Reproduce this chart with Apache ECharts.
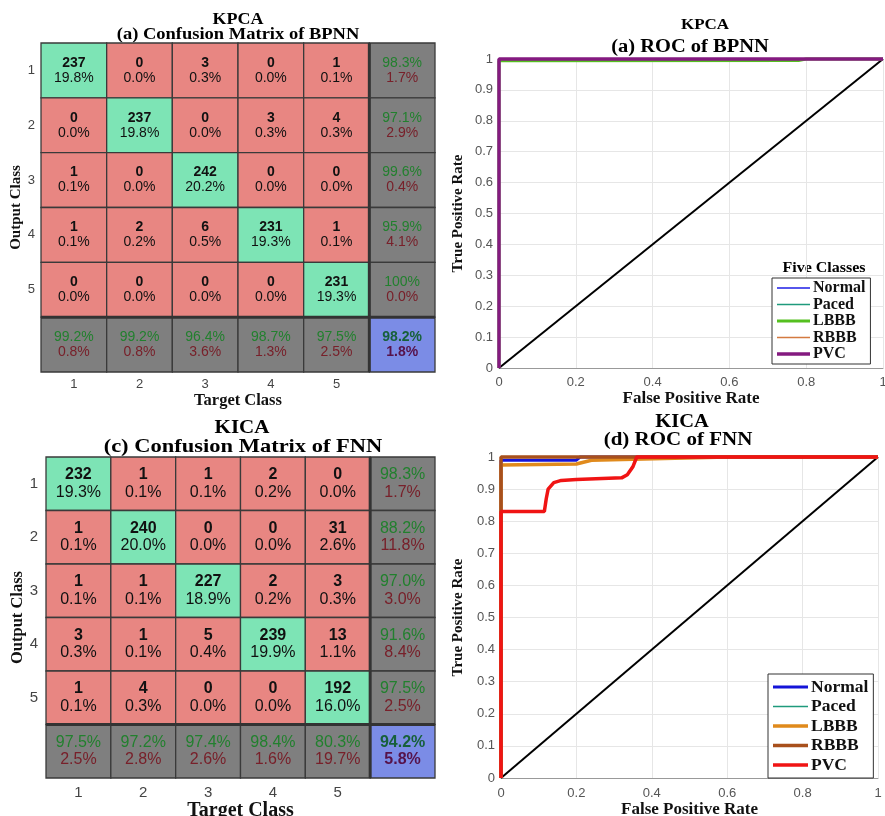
<!DOCTYPE html>
<html>
<head>
<meta charset="utf-8">
<script src="https://cdn.jsdelivr.net/npm/echarts@6/dist/echarts.min.js"></script>
<style>
html,body{margin:0;padding:0;background:#fff;}
#chart{width:885px;height:816px;}
</style>
</head>
<body>
<div id="chart"></div>
<script>
// ---------------- DATA ----------------
const matXTicks = ['1', '2', '3', '4', '5', ''];
const matYTicks = ['1', '2', '3', '4', '5', ''];

// (a) KPCA - Confusion matrix of BPNN
const cmA_counts = [
  [237, 0, 3, 0, 1],
  [0, 237, 0, 3, 4],
  [1, 0, 242, 0, 0],
  [1, 2, 6, 231, 1],
  [0, 0, 0, 0, 231]
];
const cmA_pcts = [
  ['19.8%', '0.0%', '0.3%', '0.0%', '0.1%'],
  ['0.0%', '19.8%', '0.0%', '0.3%', '0.3%'],
  ['0.1%', '0.0%', '20.2%', '0.0%', '0.0%'],
  ['0.1%', '0.2%', '0.5%', '19.3%', '0.1%'],
  ['0.0%', '0.0%', '0.0%', '0.0%', '19.3%']
];
const cmA_rowCorrect = ['98.3%', '97.1%', '99.6%', '95.9%', '100%'];
const cmA_rowWrong = ['1.7%', '2.9%', '0.4%', '4.1%', '0.0%'];
const cmA_colCorrect = ['99.2%', '99.2%', '96.4%', '98.7%', '97.5%'];
const cmA_colWrong = ['0.8%', '0.8%', '3.6%', '1.3%', '2.5%'];
const cmA_total = ['98.2%', '1.8%'];

// (c) KICA - Confusion matrix of FNN
const cmC_counts = [
  [232, 1, 1, 2, 0],
  [1, 240, 0, 0, 31],
  [1, 1, 227, 2, 3],
  [3, 1, 5, 239, 13],
  [1, 4, 0, 0, 192]
];
const cmC_pcts = [
  ['19.3%', '0.1%', '0.1%', '0.2%', '0.0%'],
  ['0.1%', '20.0%', '0.0%', '0.0%', '2.6%'],
  ['0.1%', '0.1%', '18.9%', '0.2%', '0.3%'],
  ['0.3%', '0.1%', '0.4%', '19.9%', '1.1%'],
  ['0.1%', '0.3%', '0.0%', '0.0%', '16.0%']
];
const cmC_rowCorrect = ['98.3%', '88.2%', '97.0%', '91.6%', '97.5%'];
const cmC_rowWrong = ['1.7%', '11.8%', '3.0%', '8.4%', '2.5%'];
const cmC_colCorrect = ['97.5%', '97.2%', '97.4%', '98.4%', '80.3%'];
const cmC_colWrong = ['2.5%', '2.8%', '2.6%', '1.6%', '19.7%'];
const cmC_total = ['94.2%', '5.8%'];

// ROC classes
const rocClasses = ['Normal', 'Paced', 'LBBB', 'RBBB', 'PVC'];
const rocChance = [[0, 0], [1, 1]];

// (a) KPCA - ROC of BPNN
const rocA_Normal = [[0, 0], [0, 1], [1, 1]];
const rocA_Paced = [[0, 0], [0, 1], [1, 1]];
const rocA_LBBB = [[0, 0], [0, 0.994], [0.78, 0.995], [0.8, 1], [1, 1]];
const rocA_RBBB = [[0, 0], [0, 1], [1, 1]];
const rocA_PVC = [[0, 0], [0, 1], [1, 1]];

// (d) KICA - ROC of FNN
const rocD_Normal = [[0, 0], [0, 0.99], [0.2, 0.99], [0.21, 1], [1, 1]];
const rocD_Paced = [[0, 0], [0, 1], [1, 1]];
const rocD_LBBB = [[0, 0], [0, 0.975], [0.2, 0.978], [0.24, 0.99], [0.35, 0.993], [0.6, 1], [1, 1]];
const rocD_RBBB = [[0, 0], [0, 1], [1, 1]];
const rocD_PVC = [[0, 0], [0, 0.83], [0.115, 0.83], [0.12, 0.87], [0.125, 0.9], [0.14, 0.92], [0.16, 0.927],
  [0.2, 0.93], [0.32, 0.935], [0.335, 0.945], [0.35, 0.97], [0.36, 1], [1, 1]];

// ---------------- STYLE ----------------
const SERIF = '"Liberation Serif", "Times New Roman", serif';
const SANS = '"Liberation Sans", Arial, sans-serif';

function buildCells(counts, pcts, rowC, rowW, colC, colW, total) {
  const cells = [];
  for (let r = 0; r < 5; r++) {
    for (let c = 0; c < 5; c++) {
      cells.push({ pos: [c, r], kind: r === c ? 'diag' : 'off', t1: String(counts[r][c]), t2: pcts[r][c] });
    }
  }
  for (let r = 0; r < 5; r++) cells.push({ pos: [5, r], kind: 'sum', t1: rowC[r], t2: rowW[r] });
  for (let c = 0; c < 5; c++) cells.push({ pos: [c, 5], kind: 'sum', t1: colC[c], t2: colW[c] });
  cells.push({ pos: [5, 5], kind: 'total', t1: total[0], t2: total[1] });
  return cells;
}

const kindStyle = {
  diag: { fill: '#7de4b5', c1: '#111', c2: '#111', b1: 'bold', b2: 'normal' },
  off: { fill: '#e88682', c1: '#111', c2: '#111', b1: 'bold', b2: 'normal' },
  sum: { fill: '#7f7f7f', c1: '#22802e', c2: '#78202a', b1: 'normal', b2: 'normal' },
  total: { fill: '#7b8ce6', c1: '#17603a', c2: '#56124a', b1: 'bold', b2: 'bold' }
};

function makeRender(cells, fs, off) {
  return function (params, api) {
    const cell = cells[params.dataIndex];
    const p = api.coord([cell.pos[0], cell.pos[1]]);
    const s = api.size([1, 1]);
    const w = s[0], h = s[1];
    const x0 = p[0] - w / 2, y0 = p[1] - h / 2;
    const st = kindStyle[cell.kind];
    const children = [
      { type: 'rect', shape: { x: x0, y: y0, width: w, height: h },
        style: { fill: st.fill, stroke: '#3a3a3a', lineWidth: 1.3 } },
      { type: 'text', x: p[0], y: p[1] - off,
        style: { text: cell.t1, fill: st.c1, font: st.b1 + ' ' + fs + 'px ' + SANS,
          align: 'center', verticalAlign: 'middle', textAlign: 'center', textVerticalAlign: 'middle' } },
      { type: 'text', x: p[0], y: p[1] + off,
        style: { text: cell.t2, fill: st.c2, font: st.b2 + ' ' + fs + 'px ' + SANS,
          align: 'center', verticalAlign: 'middle', textAlign: 'center', textVerticalAlign: 'middle' } }
    ];
    if (cell.pos[0] === 5) {
      children.push({ type: 'line', shape: { x1: x0, y1: y0, x2: x0, y2: y0 + h }, style: { stroke: '#333', lineWidth: 3 } });
    }
    if (cell.pos[1] === 5) {
      children.push({ type: 'line', shape: { x1: x0, y1: y0, x2: x0 + w, y2: y0 }, style: { stroke: '#333', lineWidth: 3 } });
    }
    return { type: 'group', children: children };
  };
}

const cellsA = buildCells(cmA_counts, cmA_pcts, cmA_rowCorrect, cmA_rowWrong, cmA_colCorrect, cmA_colWrong, cmA_total);
const cellsC = buildCells(cmC_counts, cmC_pcts, cmC_rowCorrect, cmC_rowWrong, cmC_colCorrect, cmC_colWrong, cmC_total);

function iconPath(w, h, t) {
  const a = (h - t) / 2, b = (h + t) / 2;
  return 'path://M0,0L0.01,0M0,' + a + 'H' + w + 'V' + b + 'H0ZM0,' + h + 'L0.01,' + h;
}

function matAxes(gi, fs, xNameFs, yNameFs, xMargin, xGap, yMargin, yGap) {
  return {
    x: { gridIndex: gi, type: 'category', data: matXTicks, position: 'bottom',
      axisLine: { show: false }, axisTick: { show: false }, splitLine: { show: false },
      axisLabel: { fontSize: fs, color: '#444', margin: xMargin, fontFamily: SANS },
      name: 'Target Class', nameLocation: 'middle', nameGap: xGap,
      nameTextStyle: { fontFamily: SERIF, fontWeight: 'bold', fontSize: xNameFs, color: '#111' } },
    y: { gridIndex: gi, type: 'category', data: matYTicks, inverse: true,
      axisLine: { show: false }, axisTick: { show: false }, splitLine: { show: false },
      axisLabel: { fontSize: fs, color: '#444', margin: yMargin, fontFamily: SANS },
      name: 'Output Class', nameLocation: 'middle', nameGap: yGap, nameRotate: 90,
      nameTextStyle: { fontFamily: SERIF, fontWeight: 'bold', fontSize: yNameFs, color: '#111' } }
  };
}

function rocAxes(gi, xMargin, xGap, yMargin, yGap) {
  const lab = { fontSize: 13, color: '#555', fontFamily: SANS };
  return {
    x: { gridIndex: gi, type: 'value', min: 0, max: 1, interval: 0.2,
      axisLine: { show: true, lineStyle: { color: '#999', width: 1 } }, axisTick: { show: false },
      splitLine: { show: true, lineStyle: { color: '#e6e6e6', width: 1 } },
      axisLabel: Object.assign({ margin: xMargin }, lab),
      name: 'False Positive Rate', nameLocation: 'middle', nameGap: xGap,
      nameTextStyle: { fontFamily: SERIF, fontWeight: 'bold', fontSize: 17, color: '#111' } },
    y: { gridIndex: gi, type: 'value', min: 0, max: 1, interval: 0.1,
      axisLine: { show: true, lineStyle: { color: '#999', width: 1 } }, axisTick: { show: false },
      splitLine: { show: true, lineStyle: { color: '#e6e6e6', width: 1 } },
      axisLabel: Object.assign({ margin: yMargin }, lab),
      name: 'True Positive Rate', nameLocation: 'middle', nameGap: yGap, nameRotate: 90,
      nameTextStyle: { fontFamily: SERIF, fontWeight: 'bold', fontSize: 15, color: '#111' } }
  };
}

const mA = matAxes(0, 13, 16.5, 15, 6, 18, 6, 17);
const rA = rocAxes(1, 8, 21, 6, 33);
const mC = matAxes(2, 15, 20, 16.5, 7, 21, 8, 20);
const rD = rocAxes(3, 9, 23, 6, 35);

const rocAStyle = {
  Normal: { color: '#1f1fe6', width: 1.6, data: rocA_Normal },
  Paced: { color: '#1f9a7c', width: 1.6, data: rocA_Paced },
  LBBB: { color: '#55c020', width: 3, data: rocA_LBBB },
  RBBB: { color: '#d47a40', width: 1.6, data: rocA_RBBB },
  PVC: { color: '#841a80', width: 3.5, data: rocA_PVC }
};
const rocDStyle = {
  Normal: { color: '#1414d8', width: 3, data: rocD_Normal },
  Paced: { color: '#1f9a7c', width: 1.6, data: rocD_Paced },
  LBBB: { color: '#e08a1c', width: 3.5, data: rocD_LBBB },
  RBBB: { color: '#a8501c', width: 3.5, data: rocD_RBBB },
  PVC: { color: '#f01414', width: 3.5, data: rocD_PVC }
};

const series = [
  { type: 'custom', name: 'cmA', coordinateSystem: 'cartesian2d', xAxisIndex: 0, yAxisIndex: 0,
    data: cellsA.map(c => c.pos), encode: { x: 0, y: 1 }, renderItem: makeRender(cellsA, 14, 7.5), silent: true, clip: false },
  { type: 'custom', name: 'cmC', coordinateSystem: 'cartesian2d', xAxisIndex: 2, yAxisIndex: 2,
    data: cellsC.map(c => c.pos), encode: { x: 0, y: 1 }, renderItem: makeRender(cellsC, 16, 8.7), silent: true, clip: false },
  { type: 'line', name: 'chanceA', xAxisIndex: 1, yAxisIndex: 1, data: rocChance, showSymbol: false, symbol: 'none',
    lineStyle: { color: '#000', width: 2 }, color: '#000', silent: true, clip: false },
  { type: 'line', name: 'chanceD', xAxisIndex: 3, yAxisIndex: 3, data: rocChance, showSymbol: false, symbol: 'none',
    lineStyle: { color: '#000', width: 2 }, color: '#000', silent: true, clip: false }
];
rocClasses.forEach(function (cls) {
  const s = rocAStyle[cls];
  series.push({ type: 'line', name: 'a|' + cls, xAxisIndex: 1, yAxisIndex: 1, data: s.data,
    showSymbol: false, symbol: 'none', color: s.color, lineStyle: { color: s.color, width: s.width }, clip: false, silent: true });
});
rocClasses.forEach(function (cls) {
  const s = rocDStyle[cls];
  series.push({ type: 'line', name: 'd|' + cls, xAxisIndex: 3, yAxisIndex: 3, data: s.data,
    showSymbol: false, symbol: 'none', color: s.color, lineStyle: { color: s.color, width: s.width }, clip: false, silent: true });
});

function legendFor(prefix, styles, left, top, iw, ih, gap, fs, pad) {
  return {
    orient: 'vertical', left: left, top: top, itemWidth: iw, itemHeight: ih, itemGap: gap,
    padding: pad, backgroundColor: '#fff', borderColor: '#333', borderWidth: 1,
    selectedMode: false,
    textStyle: { fontFamily: SERIF, fontWeight: 'bold', fontSize: fs, color: '#111', padding: [0, 0, 0, -2] },
    formatter: function (n) { return n.split('|')[1]; },
    itemStyle: { borderWidth: 0 },
    data: rocClasses.map(function (cls) {
      const s = styles[cls];
      return { name: prefix + '|' + cls, icon: iconPath(iw, ih, s.width),
        itemStyle: { color: s.color, borderWidth: 0 } };
    })
  };
}

function title(x, y, text, fs, sy) {
  return { type: 'text', x: x, y: y, scaleY: sy || 0.88, silent: true,
    style: { text: text, fill: '#000', font: 'bold ' + fs + 'px ' + SERIF,
      align: 'center', verticalAlign: 'middle', textAlign: 'center', textVerticalAlign: 'middle' } };
}

const option = {
  backgroundColor: '#fff',
  animation: false,
  grid: [
    { left: 41, top: 43, width: 394, height: 329, outerBoundsMode: 'none' },
    { left: 499, top: 59, width: 384, height: 309, outerBoundsMode: 'none' },
    { left: 46, top: 457, width: 389, height: 321, outerBoundsMode: 'none' },
    { left: 501, top: 457, width: 377, height: 321, outerBoundsMode: 'none' }
  ],
  xAxis: [mA.x, rA.x, mC.x, rD.x],
  yAxis: [mA.y, rA.y, mC.y, rD.y],
  legend: [
    legendFor('a', rocAStyle, 772, 278, 33, 12, 0.5, 16, [2, 5, 2, 5]),
    legendFor('d', rocDStyle, 768, 674, 35, 14, 1.5, 17.5, [4, 5, 4, 5])
  ],
  graphic: [
    title(238, 20, 'KPCA', 18),
    title(238, 35, '(a) Confusion Matrix of BPNN', 18.5),
    title(705, 25, 'KPCA', 17),
    title(690, 47, '(a) ROC of BPNN', 20.5),
    title(824, 268, 'Five Classes', 16),
    title(242, 428, 'KICA', 21),
    title(243, 447, '(c) Confusion Matrix of FNN', 22.5),
    title(682, 422, 'KICA', 20.5),
    title(678, 440, '(d) ROC of FNN', 21)
  ],
  series: series
};

const chart = echarts.init(document.getElementById('chart'), null, { renderer: 'canvas' });
chart.setOption(option);
</script>
</body>
</html>
